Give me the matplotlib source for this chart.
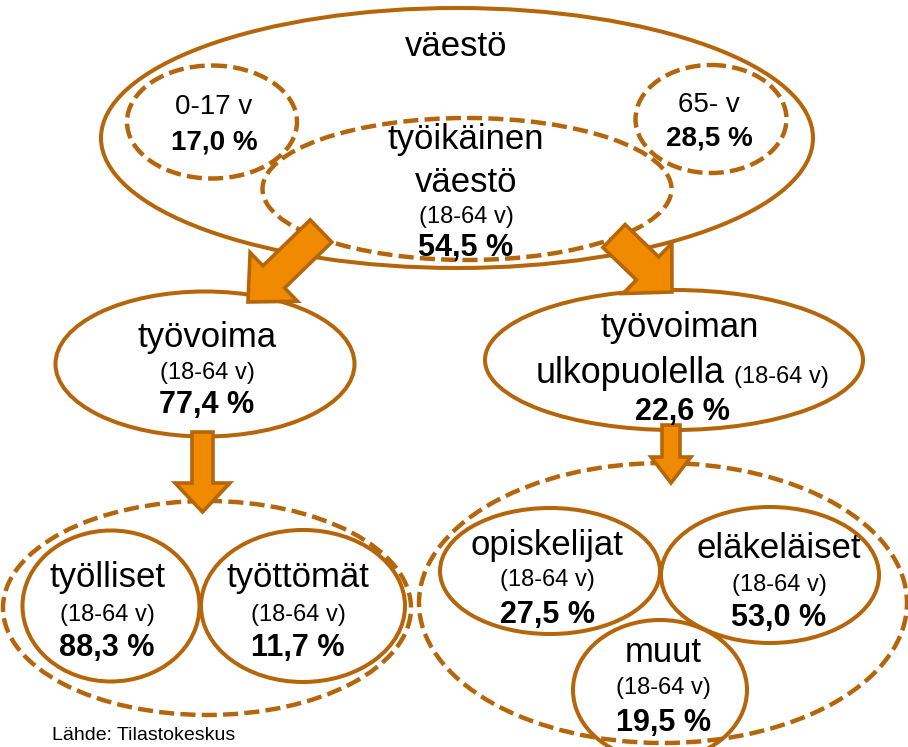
import matplotlib
matplotlib.use("Agg")
import matplotlib.pyplot as plt
from matplotlib.patches import Ellipse, FancyArrow

# ---- data ----
group_labels = ["väestö", "0-17 v", "65- v", "työikäinen\nväestö", "työvoima",
                "työvoiman", "työlliset", "työttömät", "opiskelijat", "eläkeläiset", "muut"]
age_note = "(18-64 v)"
values = {"0-17 v": 17.0, "65- v": 28.5, "työikäinen": 54.5, "työvoima": 77.4,
          "ulkopuolella": 22.6, "työlliset": 88.3, "työttömät": 11.7,
          "opiskelijat": 27.5, "eläkeläiset": 53.0, "muut": 19.5}
source = "Lähde: Tilastokeskus"

def pct(v):
    return f"{v:.1f}".replace(".", ",") + " %"

# ---- style ----
BROWN = "#B5660B"
ORANGE = "#F08A00"
FONT = "Liberation Sans"
BIG, SMALL, PCT, RING = 25, 17, 22, 20
SOLID_LW, DASH_LW = 2.9, 3.2
DASH = (0, (3.4, 1.4))

fig = plt.figure(figsize=(9.08, 7.47), dpi=100)
ax = fig.add_axes([0, 0, 1, 1])
ax.set_xlim(0, 908)
ax.set_ylim(747, 0)
ax.axis("off")

def ell(c, w, h, dashed=False):
    ax.add_patch(Ellipse(c, w, h, fill=False, edgecolor=BROWN,
                         lw=DASH_LW if dashed else SOLID_LW,
                         linestyle=DASH if dashed else "-", zorder=2))

# ellipses (pixel layout)
ell((457, 138), 712, 260)
ell((212, 122), 170, 113, True)
ell((711, 119), 151, 108, True)
ell((467, 189), 409, 142, True)
ell((205, 364), 299, 145)
ell((674, 360), 378, 140)
ell((207, 608), 408, 214, True)
ell((111, 606), 177, 151)
ell((303, 606), 204, 152)
ell((663, 603), 488, 280, True)
ell((550, 571), 220, 126)
ell((770, 575), 218, 136)
ell((660, 690), 174, 140)

def arrow(x, y, dx, dy, w, hw, hl):
    ax.add_patch(FancyArrow(x, y, dx, dy, width=w, head_width=hw, head_length=hl,
                            length_includes_head=True, facecolor=ORANGE,
                            edgecolor=BROWN, lw=2.6, joinstyle="miter", zorder=3))

arrow(321, 231, -73, 71, 31, 68, 36)
arrow(614, 236, 58, 56, 32, 70, 34)
arrow(202.5, 432, 0, 80, 21, 55, 29)
arrow(671, 425, 0, 58, 18, 40, 26)

def txt(x, y, s, size, bold=False, ha="center", va="center"):
    ax.text(x, y, s, fontsize=size, fontweight="bold" if bold else "normal",
            family=FONT, ha=ha, va=va, color="black", zorder=5)

# top
txt(456, 47, group_labels[0], BIG)
txt(214, 107, group_labels[1], RING)
txt(214, 142, pct(values["0-17 v"]), RING, True)
txt(709, 105, group_labels[2], RING)
txt(709, 138, pct(values["65- v"]), RING, True)
txt(466, 140, "työikäinen", BIG)
txt(466, 183, "väestö", BIG)
txt(466, 217, age_note, SMALL)
txt(466, 248, pct(values["työikäinen"]), PCT, True)

# middle
txt(207, 337, group_labels[4], BIG)
txt(207, 373, age_note, SMALL)
txt(207, 405, pct(values["työvoima"]), PCT, True)
txt(680, 328, group_labels[5], BIG)
txt(536, 383, "ulkopuolella", 25.8, ha="left", va="baseline")
txt(734, 383, age_note, SMALL, ha="left", va="baseline")
txt(682, 412, pct(values["ulkopuolella"]), PCT, True)

# bottom
for name, x, ys in [("työlliset", 107, (578, 615, 648)),
                    ("työttömät", 298, (578, 615, 648)),
                    ("opiskelijat", 547, (545, 580, 615)),
                    ("eläkeläiset", 779, (548, 585, 618)),
                    ("muut", 663, (653, 688, 723))]:
    txt(x, ys[0], name, BIG)
    txt(x, ys[1], age_note, SMALL)
    txt(x, ys[2], pct(values[name]), PCT, True)

txt(52, 727, source, 14, ha="left", va="top")

fig.savefig("out.png", dpi=100, facecolor="white")
